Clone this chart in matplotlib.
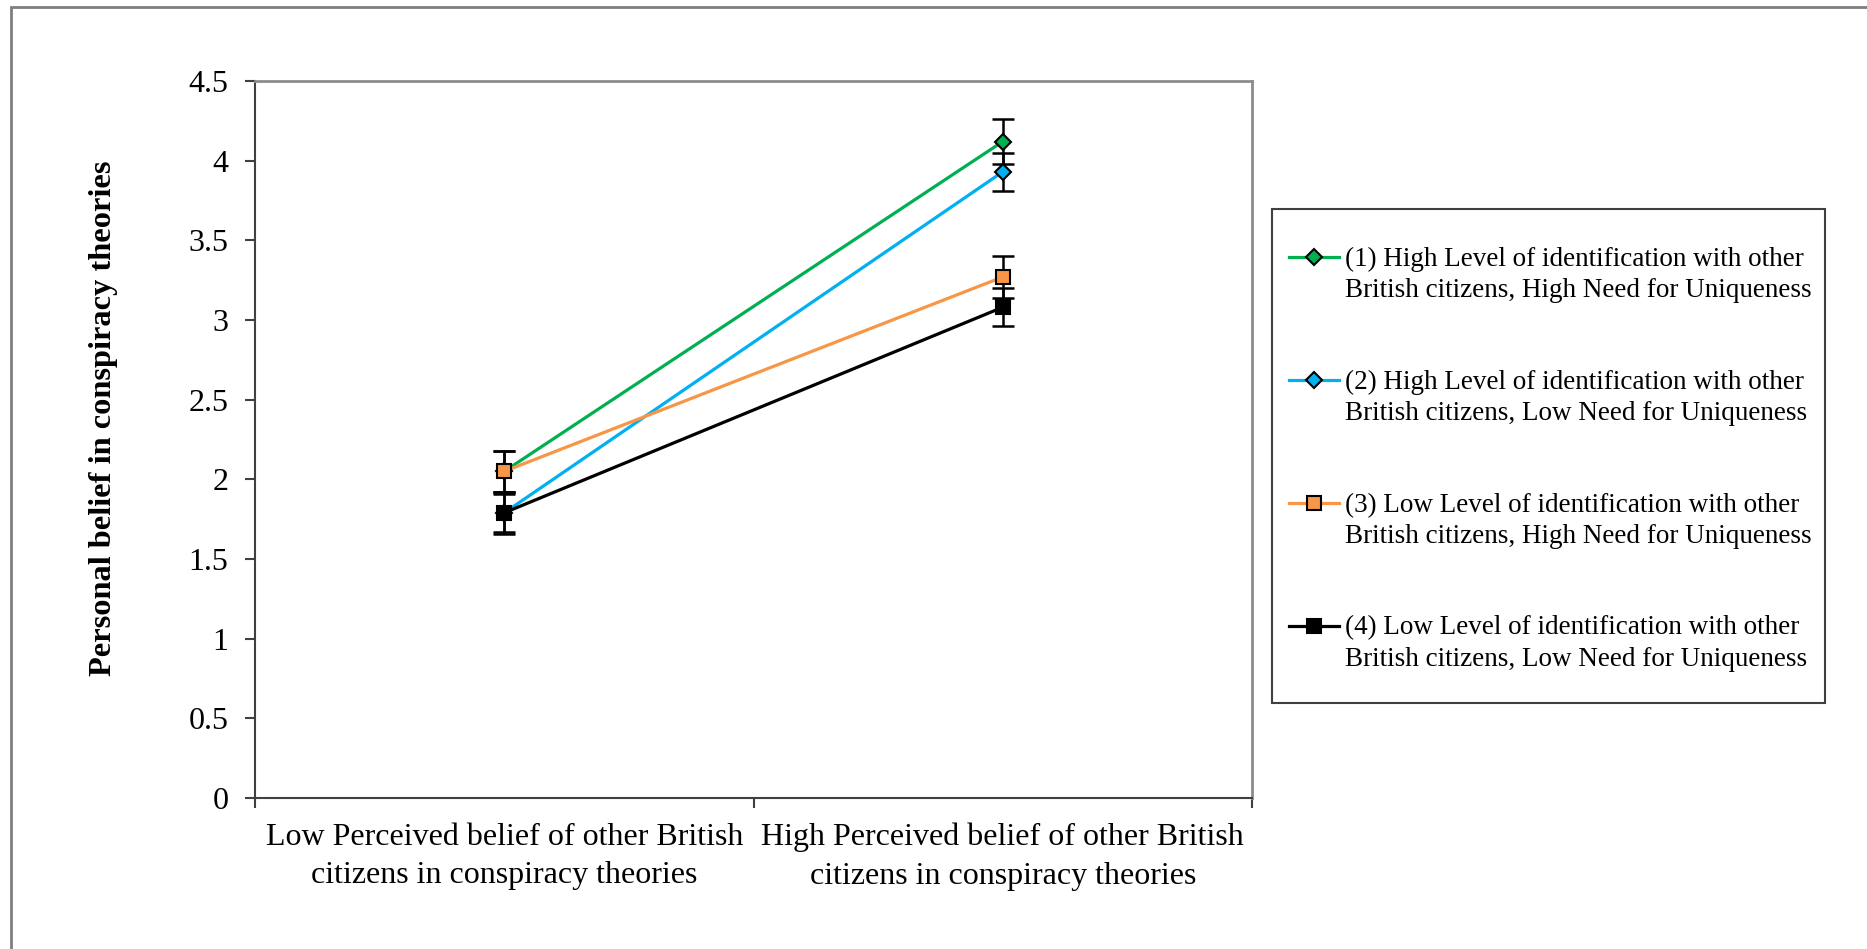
import matplotlib
matplotlib.use("Agg")
import matplotlib.pyplot as plt
import numpy as np
from matplotlib.lines import Line2D
from matplotlib.legend_handler import HandlerLine2D
from matplotlib.patches import Rectangle

plt.rcParams['font.family'] = ['Liberation Serif', 'DejaVu Serif']

# data
categories = ['Low Perceived belief of other British\ncitizens in conspiracy theories',
              'High Perceived belief of other British\ncitizens in conspiracy theories']
labels = ['(1) High Level of identification with other\nBritish citizens, High Need for Uniqueness',
          '(2) High Level of identification with other\nBritish citizens, Low Need for Uniqueness',
          '(3) Low Level of identification with other\nBritish citizens, High Need for Uniqueness',
          '(4) Low Level of identification with other\nBritish citizens, Low Need for Uniqueness']
means_g1 = [2.05, 4.12]
means_g2 = [1.79, 3.93]
means_g3 = [2.05, 3.27]
means_g4 = [1.79, 3.08]
err_g1 = [0.13, 0.14]
err_g2 = [0.12, 0.12]
err_g3 = [0.13, 0.13]
err_g4 = [0.13, 0.12]

colors = ['#00B050', '#00B0F0', '#F79646', '#000000']
markers = ['D', 'D', 's', 's']
msizes = [8.5, 8.5, 10.5, 10.5]

LEG_LS = 1.32


class FirstLineHandler(HandlerLine2D):
    # put the legend symbol next to the first line of a two-line label
    def create_artists(self, legend, orig_handle, xdescent, ydescent,
                       width, height, fontsize, trans):
        arts = super().create_artists(legend, orig_handle, xdescent, ydescent,
                                      width, height, fontsize, trans)
        for a in arts:
            a.set_ydata(np.asarray(a.get_ydata()) + 0.5 * LEG_LS * fontsize)
        return arts


W, H = 1867, 949
fig = plt.figure(figsize=(W / 100, H / 100), dpi=100)
fig.patches.append(Rectangle((11 / W, -0.1), 1.2, 1.1 - 7 / H,
                             transform=fig.transFigure, fill=False,
                             edgecolor='#7f7f7f', linewidth=2))
# legend frame
fig.patches.append(Rectangle((1272 / W, 1 - 703 / H), (1825 - 1272) / W, (703 - 209) / H,
                             transform=fig.transFigure, fill=False,
                             edgecolor='#404040', linewidth=1.5))

ax = fig.add_axes([255 / W, 1 - 798 / H, (1252 - 255) / W, (798 - 81) / H])

x = np.arange(1, len(categories) + 1)
all_means = [means_g1, means_g2, means_g3, means_g4]
all_errs = [err_g1, err_g2, err_g3, err_g4]
handles = []
for i in range(4):
    ax.errorbar(x, all_means[i], yerr=all_errs[i], fmt='none', ecolor='black',
                elinewidth=1.8, capsize=8, capthick=1.8, zorder=3 + 2 * i)
    h, = ax.plot(x, all_means[i], color=colors[i], lw=2.3, marker=markers[i],
                 markersize=msizes[i], markerfacecolor=colors[i],
                 markeredgecolor='black', markeredgewidth=1.5,
                 label=labels[i], zorder=4 + 2 * i)
    handles.append(h)

ax.set_xlim(0.5, 2.5)
ax.set_ylim(0, 4.5)
ax.set_yticks(np.arange(0, 4.51, 0.5))
ax.set_yticklabels(['0', '0.5', '1', '1.5', '2', '2.5', '3', '3.5', '4', '4.5'])
ax.set_xticks(x)
ax.set_xticklabels(categories, linespacing=1.42)
ax.set_xticks([0.5, 1.5, 2.5], minor=True)
ax.tick_params(axis='x', which='major', length=0, pad=18, labelsize=23)
ax.tick_params(axis='x', which='minor', length=7, width=1.5, direction='out', color='#404040')
ax.tick_params(axis='y', length=7, width=1.5, direction='out', pad=12, labelsize=23, color='#404040')

for s in ['left', 'bottom']:
    ax.spines[s].set_color('#404040')
    ax.spines[s].set_linewidth(1.5)
for s in ['top', 'right']:
    ax.spines[s].set_color('#8c8c8c')
    ax.spines[s].set_linewidth(2)

fig.text(103 / W, 1 - 418 / H, 'Personal belief in conspiracy theories',
         rotation=90, ha='center', va='center', fontsize=23.3, fontweight='bold')

leg = fig.legend(handles=handles, loc='upper left',
                 bbox_to_anchor=(1289 / W, 1 - 247 / H),
                 handler_map={Line2D: FirstLineHandler()},
                 fontsize=19.5, frameon=False,
                 handlelength=1.85, handletextpad=0.2, labelspacing=2.46,
                 borderpad=0, borderaxespad=0)
for t in leg.get_texts():
    t.set_linespacing(LEG_LS)

fig.savefig('out.png', dpi=100, facecolor='white')
